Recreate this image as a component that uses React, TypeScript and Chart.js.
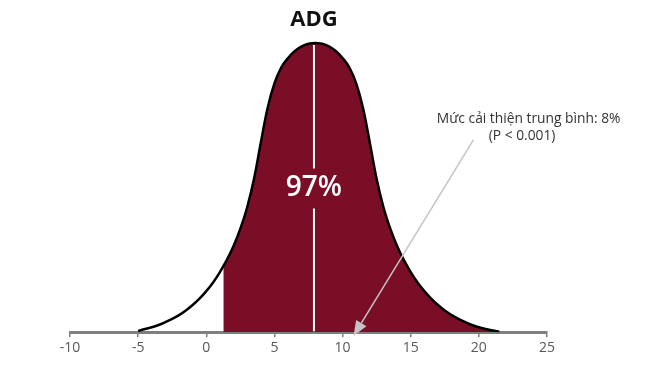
import React, { useEffect, useRef } from "react";
import { Chart, registerables } from "chart.js";

Chart.register(...registerables);

// Curve: relative height (peak = 1) at each x
const xValues = [
  -5, -4.5, -4, -3.5, -3, -2.5, -2, -1.5, -1, -0.5, 0, 0.5, 1, 1.5, 2, 2.5, 3, 3.5, 4,
  4.5, 5, 5.5, 6, 6.5, 7, 7.5, 8, 8.5, 9, 9.5, 10, 10.5, 11, 11.5, 12, 12.5, 13, 13.5, 14, 14.5,
  15, 15.5, 16, 16.5, 17, 17.5, 18, 18.5, 19, 19.5, 20, 20.5, 21, 21.5,
];
const heights = [
  0.004, 0.011, 0.017, 0.025, 0.035, 0.046, 0.059, 0.075, 0.094, 0.116, 0.142, 0.172,
  0.208, 0.249, 0.298, 0.358, 0.432, 0.53, 0.655, 0.775, 0.86, 0.915, 0.948, 0.972, 0.988,
  0.997, 1.0, 0.997, 0.988, 0.972, 0.948, 0.915, 0.86, 0.775, 0.655, 0.53, 0.432, 0.358, 0.298,
  0.249, 0.208, 0.172, 0.142, 0.116, 0.094, 0.075, 0.059, 0.046, 0.035, 0.025, 0.017, 0.011,
  0.006, 0.002,
];
const shadeStart = 1.25;
const shadeStartHeight = 0.229;
const meanValue = 7.9;
const titleText = "ADG";
const shareText = "97%";
const noteLines = ["Mức cải thiện trung bình: 8%", "(P < 0.001)"];
const xTicks = [-10, -5, 0, 5, 10, 15, 20, 25];

const curveData = xValues.map((x, i) => ({ x, y: heights[i] }));
const shadeData = [{ x: shadeStart, y: shadeStartHeight }].concat(
  curveData.filter((p) => p.x > shadeStart)
);

const overlay = {
  id: "overlay",
  afterDatasetsDraw(chart: any) {
    const { ctx, scales } = chart;
    const xs = scales.x;
    const ys = scales.y;
    const mx = xs.getPixelForValue(meanValue);
    const top = ys.getPixelForValue(1) + 2;
    const bottom = ys.getPixelForValue(0) - 1;
    const textY = ys.getPixelForValue(0.497);
    ctx.save();
    // mean line, interrupted by the label
    ctx.strokeStyle = "#ffffff";
    ctx.lineWidth = 2;
    ctx.beginPath();
    ctx.moveTo(mx, top);
    ctx.lineTo(mx, textY - 20);
    ctx.moveTo(mx, textY + 20);
    ctx.lineTo(mx, bottom);
    ctx.stroke();

    ctx.fillStyle = "#ffffff";
    ctx.font = "600 28px 'Open Sans'";
    ctx.textAlign = "center";
    ctx.textBaseline = "middle";
    ctx.fillText(shareText, mx, textY);

    // title
    ctx.fillStyle = "#111111";
    ctx.font = "bold 22px 'Open Sans'";
    ctx.fillText(titleText, mx, 20);

    // note
    ctx.fillStyle = "#333333";
    ctx.font = "13.8px 'Open Sans'";
    ctx.fillText(noteLines[0], xs.getPixelForValue(23.65), ys.getPixelForValue(0.738));
    ctx.fillText(noteLines[1], xs.getPixelForValue(23.17), ys.getPixelForValue(0.679));

    // arrow
    const x1 = xs.getPixelForValue(19.6);
    const y1 = ys.getPixelForValue(0.665);
    const x2 = xs.getPixelForValue(10.8);
    const y2 = ys.getPixelForValue(-0.013);
    const ang = Math.atan2(y2 - y1, x2 - x1);
    const hl = 15;
    const hw = 6;
    const bx = x2 - hl * Math.cos(ang);
    const by = y2 - hl * Math.sin(ang);
    ctx.strokeStyle = "#c4c4c4";
    ctx.fillStyle = "#c4c4c4";
    ctx.lineWidth = 1.5;
    ctx.beginPath();
    ctx.moveTo(x1, y1);
    ctx.lineTo(bx, by);
    ctx.stroke();
    ctx.beginPath();
    ctx.moveTo(x2, y2);
    ctx.lineTo(bx + hw * Math.sin(ang), by - hw * Math.cos(ang));
    ctx.lineTo(bx - hw * Math.sin(ang), by + hw * Math.cos(ang));
    ctx.closePath();
    ctx.fill();
    ctx.restore();
  },
};

export default function App() {
  const ref = useRef<HTMLCanvasElement | null>(null);
  useEffect(() => {
    if (!ref.current) return;
    const chart = new Chart(ref.current, {
      type: "line",
      data: {
        datasets: [
          {
            data: curveData,
            borderColor: "#000000",
            borderWidth: 2.5,
            pointRadius: 0,
            fill: false,
            tension: 0.4,
          },
          {
            data: shadeData,
            borderWidth: 0,
            borderColor: "rgba(0,0,0,0)",
            backgroundColor: "#7a0e27",
            pointRadius: 0,
            fill: "origin",
            tension: 0.4,
          },
        ],
      },
      options: {
        animation: false,
        responsive: true,
        maintainAspectRatio: false,
        layout: { padding: { left: 70, right: 107, top: 14, bottom: 12 } },
        plugins: { legend: { display: false }, tooltip: { enabled: false }, title: { display: false } },
        scales: {
          x: {
            type: "linear",
            min: -10,
            max: 25,
            afterBuildTicks: (scale: any) => {
              scale.ticks = xTicks.map((v) => ({ value: v }));
            },
            grid: {
              display: true,
              drawOnChartArea: false,
              drawTicks: true,
              tickLength: 5,
              color: "#7f7f7f",
              lineWidth: 1.5,
            },
            border: { display: true, color: "#7f7f7f", width: 3 },
            ticks: {
              color: "#595959",
              font: { family: "'Open Sans'", size: 14 },
              padding: 2,
              maxRotation: 0,
            },
          },
          y: { display: false, min: 0, max: 1.1 },
        },
      },
      plugins: [overlay],
    });
    return () => chart.destroy();
  }, []);
  return (
    <div style={{ position: "fixed", left: 0, top: 0, width: 654, height: 370, background: "#fff" }}>
      <canvas ref={ref} />
    </div>
  );
}
